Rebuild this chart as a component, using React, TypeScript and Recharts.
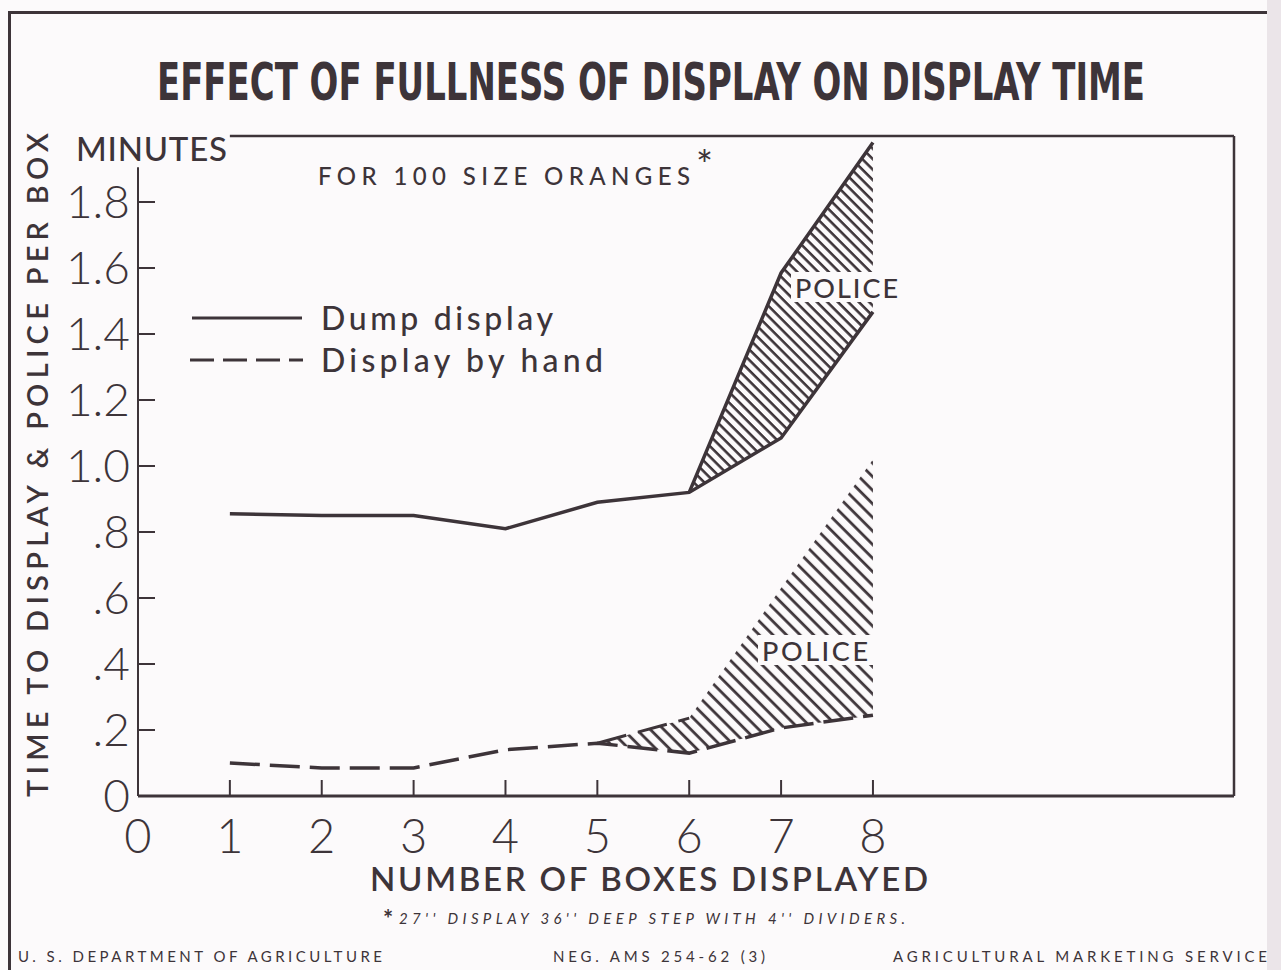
import React from 'react';
import { ComposedChart, Line, Area, XAxis, YAxis, ReferenceLine } from 'recharts';

// ---------- data ----------
const boxesDisplayed = [1, 2, 3, 4, 5, 6, 7, 8];
const dumpDisplay = [0.855, 0.85, 0.85, 0.81, 0.89, 0.92, 1.085, 1.467];
const dumpDisplayWithPolice = [null, null, null, null, null, 0.92, 1.585, 1.98];
const handDisplay = [0.1, 0.085, 0.085, 0.14, 0.16, 0.13, 0.206, 0.245];
const handDisplayWithPolice = [null, null, null, null, 0.16, 0.236, 0.63, 1.02];
const handPoliceDashedEdge = [null, null, null, null, 0.16, 0.236, null, null];

const xTicks = [0, 1, 2, 3, 4, 5, 6, 7, 8];
const yTicks = [0, 0.2, 0.4, 0.6, 0.8, 1.0, 1.2, 1.4, 1.6, 1.8];
const yTickLabels = ['0', '.2', '.4', '.6', '.8', '1.0', '1.2', '1.4', '1.6', '1.8'];
const rightTicks = [0.2, 0.4, 0.6, 0.8, 1.0, 1.2, 1.4, 1.6, 1.8];

const data = boxesDisplayed.map((b, i) => ({
  boxes: b,
  dump: dumpDisplay[i],
  dumpTop: dumpDisplayWithPolice[i],
  dumpPolice: dumpDisplayWithPolice[i] != null ? [dumpDisplay[i], dumpDisplayWithPolice[i]] : null,
  hand: handDisplay[i],
  handEdge: handPoliceDashedEdge[i],
  handPolice: handDisplayWithPolice[i] != null ? [handDisplay[i], handDisplayWithPolice[i]] : null,
}));

// ---------- style ----------
const INK = '#3d3439';
const BG = '#fcfafb';
const SANS = "Lato, 'Noto Sans', 'DejaVu Sans', sans-serif";
const COND = "'DejaVu Sans Condensed', 'Liberation Sans Narrow', 'DejaVu Sans', sans-serif";

const XTick = (props: any) => {
  const { x, y, payload } = props;
  return (
    <g>
      {payload.value !== 0 && (
        <line x1={x} x2={x} y1={y} y2={y - 16} stroke={INK} strokeWidth={2} />
      )}
      <text x={x} y={y + 57} textAnchor="middle" fill={INK} fontFamily={SANS} fontWeight={300} fontSize={47}>
        {payload.value}
      </text>
    </g>
  );
};

const YTick = (props: any) => {
  const { x, y, payload, index } = props;
  return (
    <g>
      {payload.value !== 0 && (
        <line x1={x + 8} x2={x + 25} y1={y} y2={y} stroke={INK} strokeWidth={2} />
      )}
      <text x={x} y={y + 16} textAnchor="end" fill={INK} fontFamily={SANS} fontWeight={300} fontSize={46}>
        {yTickLabels[index]}
      </text>
    </g>
  );
};

export default function App() {
  return (
    <div style={{ position: 'absolute', left: 0, top: 0, width: 1281, height: 970, background: BG, overflow: 'hidden' }}>
      <div style={{ position: 'absolute', left: 0, top: 0 }}>
        <ComposedChart width={1281} height={970} data={data} margin={{ top: 136, right: 47, bottom: 114, left: 38 }}>
          <defs>
            <pattern id="hatchDump" patternUnits="userSpaceOnUse" width={7.4} height={7.4} patternTransform="rotate(-45)">
              <line x1={1.5} y1={0} x2={1.5} y2={7.4} stroke={INK} strokeWidth={2.6} />
            </pattern>
            <pattern id="hatchHand" patternUnits="userSpaceOnUse" width={9.6} height={9.6} patternTransform="rotate(-45)">
              <line x1={1.6} y1={0} x2={1.6} y2={9.6} stroke={INK} strokeWidth={2.8} />
            </pattern>
          </defs>
          <XAxis
            dataKey="boxes"
            type="number"
            domain={[0, 11.93]}
            allowDataOverflow
            ticks={xTicks}
            interval={0}
            height={60}
            tickSize={0}
            tickMargin={0}
            tickLine={false}
            axisLine={{ stroke: INK, strokeWidth: 3 }}
            tick={<XTick />}
          />
          <YAxis
            yAxisId="left"
            type="number"
            domain={[0, 2]}
            allowDataOverflow
            ticks={yTicks}
            interval={0}
            width={100}
            tickSize={0}
            tickMargin={8}
            tickLine={false}
            axisLine={false}
            tick={<YTick />}
          />
          <YAxis
            yAxisId="right"
            orientation="right"
            type="number"
            domain={[0, 2]}
            ticks={rightTicks}
            interval={0}
            mirror
            width={1}
            tickSize={14}
            tick={false}
            tickLine={{ stroke: INK, strokeWidth: 2 }}
            axisLine={{ stroke: INK, strokeWidth: 2.5 }}
          />
          <ReferenceLine
            yAxisId="left"
            segment={[{ x: 1, y: 2 }, { x: 11.93, y: 2 }]}
            stroke={INK}
            strokeWidth={2.5}
            ifOverflow="visible"
          />
          <ReferenceLine
            yAxisId="left"
            segment={[{ x: 0, y: 0 }, { x: 0, y: 1.905 }]}
            stroke={INK}
            strokeWidth={2}
            ifOverflow="visible"
          />
          <Area yAxisId="left" type="linear" dataKey="dumpPolice" stroke="none" fill="url(#hatchDump)" fillOpacity={1} isAnimationActive={false} />
          <Area yAxisId="left" type="linear" dataKey="handPolice" stroke="none" fill="url(#hatchHand)" fillOpacity={1} isAnimationActive={false} />
          <Line yAxisId="left" type="linear" dataKey="dump" stroke={INK} strokeWidth={3.5} dot={false} isAnimationActive={false} />
          <Line yAxisId="left" type="linear" dataKey="dumpTop" stroke={INK} strokeWidth={3.5} dot={false} isAnimationActive={false} />
          <Line yAxisId="left" type="linear" dataKey="hand" stroke={INK} strokeWidth={3.5} strokeDasharray="30 10" dot={false} isAnimationActive={false} />
          <Line yAxisId="left" type="linear" dataKey="handEdge" stroke={INK} strokeWidth={3} strokeDasharray="30 12" dot={false} isAnimationActive={false} />
        </ComposedChart>
      </div>
      <svg width={1281} height={970} style={{ position: 'absolute', left: 0, top: 0, pointerEvents: 'none' }}>
        {/* frame */}
        <line x1={8} y1={12.5} x2={1281} y2={12.5} stroke={INK} strokeWidth={3} />
        <line x1={9.5} y1={11} x2={9.5} y2={970} stroke={INK} strokeWidth={3} />
        <rect x={1267} y={0} width={14} height={970} fill="#ebe5e9" />
        {/* title */}
        <text transform="translate(157,100) scale(1,1.45)" x={0} y={0} fill={INK} fontFamily={COND} fontWeight="bold" fontSize={35} textLength={988} lengthAdjust="spacingAndGlyphs">
          EFFECT OF FULLNESS OF DISPLAY ON DISPLAY TIME
        </text>
        {/* axis titles */}
        <text x={76} y={161} fill={INK} fontFamily={SANS} fontWeight={500} fontSize={33} textLength={151}>MINUTES</text>
        <text transform="translate(48,465) rotate(-90)" textAnchor="middle" fill={INK} fontFamily={SANS} fontWeight={600} fontSize={29} textLength={664}>
          TIME TO DISPLAY &amp; POLICE PER BOX
        </text>
        <text x={370} y={891} fill={INK} fontFamily={SANS} fontWeight={600} fontSize={33} textLength={558}>
          NUMBER OF BOXES DISPLAYED
        </text>
        {/* subtitle */}
        <text x={318} y={185} fill={INK} fontFamily={SANS} fontWeight={500} fontSize={24} textLength={372}>FOR 100 SIZE ORANGES</text>
        <text x={696} y={180} fill={INK} fontFamily={SANS} fontSize={40}>*</text>
        {/* legend */}
        <line x1={192} y1={318} x2={302} y2={318} stroke={INK} strokeWidth={3} />
        <text x={321} y={330} fill={INK} fontFamily={SANS} fontWeight={500} fontSize={32} textLength={232}>Dump display</text>
        <line x1={190} y1={360} x2={303} y2={360} stroke={INK} strokeWidth={3} strokeDasharray="24 9" />
        <text x={321} y={372} fill={INK} fontFamily={SANS} fontWeight={500} fontSize={32} textLength={282}>Display by hand</text>
        {/* police labels */}
        <rect x={791} y={272} width={82} height={30} fill={BG} />
        <text x={795} y={298} fill={INK} fontFamily={SANS} fontWeight={500} fontSize={27} textLength={103}>POLICE</text>
        <rect x={758} y={635} width={115} height={30} fill={BG} />
        <text x={762} y={661} fill={INK} fontFamily={SANS} fontWeight={500} fontSize={27} textLength={106}>POLICE</text>
        {/* footnote */}
        <text x={383} y={928} fill={INK} fontFamily={SANS} fontWeight="bold" fontSize={24}>*</text>
        <text x={399} y={924} fill={INK} fontFamily={SANS} fontStyle="italic" fontSize={15} textLength={506}>
          27'' DISPLAY 36'' DEEP STEP WITH 4'' DIVIDERS.
        </text>
        {/* credits */}
        <text x={18} y={962} fill={INK} fontFamily={SANS} fontSize={15} textLength={364}>U. S. DEPARTMENT OF AGRICULTURE</text>
        <text x={553} y={962} fill={INK} fontFamily={SANS} fontSize={15} textLength={212}>NEG. AMS 254-62 (3)</text>
        <text x={893} y={962} fill={INK} fontFamily={SANS} fontSize={15} textLength={374}>AGRICULTURAL MARKETING SERVICE</text>
      </svg>
    </div>
  );
}
